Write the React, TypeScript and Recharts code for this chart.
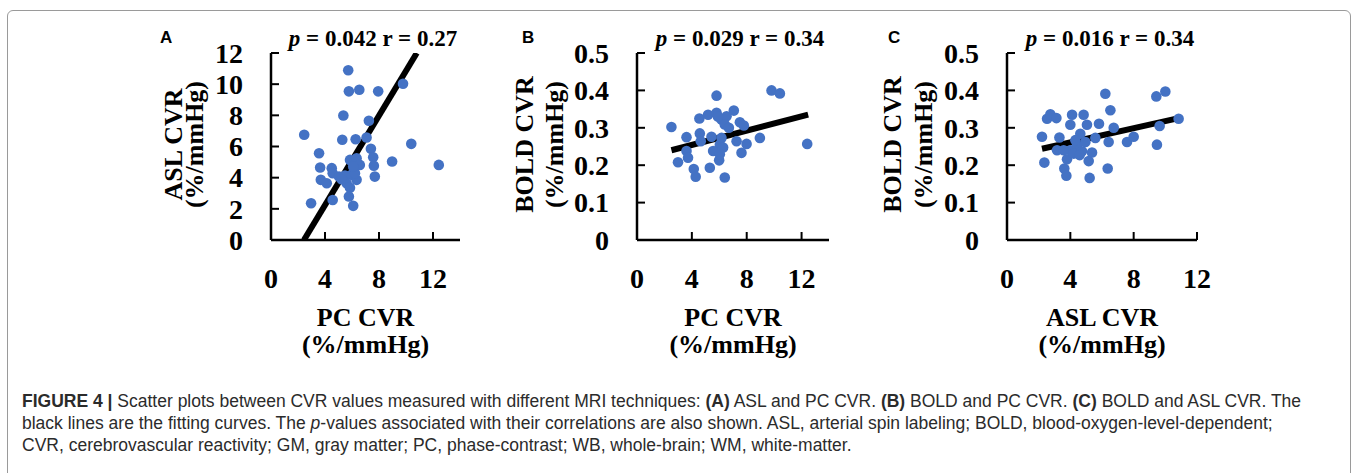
import React from "react";
import { ScatterChart, Scatter, XAxis, YAxis } from "recharts";

const SERIF = '"Liberation Serif", "Times New Roman", serif';
const SANS = '"Liberation Sans", Arial, sans-serif';
const BLUE = "#4472C4";

// A: PC CVR (x) vs ASL CVR (y)
const pcCvrA = [5.72, 5.77, 6.54, 7.94, 9.78, 5.36, 7.25, 2.46, 5.28, 6.27, 7.08, 10.39, 3.56, 7.4, 7.57, 5.85, 6.34, 6.58, 7.62, 8.97, 12.43, 3.64, 4.5, 4.57, 3.69, 4.13, 5.04, 5.48, 5.97, 6.34, 6.22, 5.6, 7.69, 5.85, 4.57, 5.77, 6.09, 2.97, 5.23, 6.09];
const aslCvrA = [10.89, 9.54, 9.64, 9.54, 10.03, 7.99, 7.65, 6.75, 6.43, 6.47, 6.58, 6.17, 5.57, 5.85, 5.31, 5.14, 5.25, 4.82, 4.76, 5.04, 4.82, 4.65, 4.61, 4.29, 3.86, 3.64, 4.07, 4.14, 4.18, 3.86, 4.29, 3.64, 4.07, 3.36, 2.57, 2.79, 2.19, 2.36, 3.9, 4.71];

// B: PC CVR (x) vs BOLD CVR (y)
const pcCvrB = [2.51, 3.61, 4.58, 4.65, 4.55, 5.18, 5.8, 5.8, 6.16, 6.53, 7.06, 6.4, 7.5, 7.79, 5.43, 6.16, 6.04, 6.28, 7.26, 7.99, 7.62, 8.96, 9.81, 10.42, 12.41, 3.61, 3.72, 2.99, 4.14, 4.28, 5.31, 5.99, 6.4, 5.55, 6.04, 5.9, 6.7];
const boldCvrB = [0.302, 0.275, 0.285, 0.264, 0.325, 0.335, 0.386, 0.34, 0.322, 0.331, 0.346, 0.309, 0.315, 0.306, 0.276, 0.273, 0.255, 0.247, 0.264, 0.257, 0.233, 0.273, 0.4, 0.392, 0.257, 0.238, 0.22, 0.208, 0.19, 0.169, 0.193, 0.213, 0.167, 0.238, 0.229, 0.33, 0.3];

// C: ASL CVR (x) vs BOLD CVR (y)
const aslCvrC = [2.21, 2.36, 2.53, 2.74, 3.31, 3.62, 3.75, 3.12, 4.11, 4.0, 4.84, 5.05, 5.81, 6.21, 6.53, 6.74, 6.42, 6.36, 5.22, 5.16, 5.37, 5.58, 4.63, 3.16, 3.79, 4.0, 4.42, 4.21, 4.74, 4.95, 4.59, 7.58, 8.0, 9.43, 10.0, 9.64, 9.47, 10.84, 3.58, 4.32];
const boldCvrC = [0.276, 0.207, 0.324, 0.336, 0.274, 0.191, 0.172, 0.326, 0.335, 0.308, 0.335, 0.308, 0.311, 0.391, 0.347, 0.3, 0.262, 0.191, 0.166, 0.211, 0.234, 0.273, 0.284, 0.24, 0.216, 0.24, 0.253, 0.231, 0.237, 0.262, 0.227, 0.262, 0.276, 0.384, 0.397, 0.305, 0.255, 0.324, 0.24, 0.267];

// fitted lines (end points)
const fitAx = [2.44, 10.8];
const fitAy = [0, 12];
const fitBx = [2.51, 12.48];
const fitBy = [0.24, 0.335];
const fitCx = [2.21, 10.84];
const fitCy = [0.244, 0.326];

const xTicks = [0, 4, 8, 12];
const yTicksAsl = [0, 2, 4, 6, 8, 10, 12];
const yTicksBold = [0, 0.1, 0.2, 0.3, 0.4, 0.5];

const zip = (xs: number[], ys: number[]) => xs.map((x, i) => ({ x, y: ys[i] }));

const XTick = (p: any) => (
  <g>
    <line x1={p.x} y1={p.y} x2={p.x} y2={p.y - 8} stroke="#000" strokeWidth={2} />
    <text x={p.x} y={p.y + 48} textAnchor="middle" fontFamily={SERIF} fontWeight="bold" fontSize={28} fill="#000">
      {p.payload.value}
    </text>
  </g>
);

const YTick = (p: any) => (
  <g>
    <line x1={p.x} y1={p.y} x2={p.x + 8} y2={p.y} stroke="#000" strokeWidth={2} />
    <text x={p.x - 28} y={p.y} dy="0.35em" textAnchor="end" fontFamily={SERIF} fontWeight="bold" fontSize={28} fill="#000">
      {p.payload.value}
    </text>
  </g>
);

const Dot = (p: any) => <circle cx={p.cx} cy={p.cy} r={5.3} fill={BLUE} />;
const NoDot = () => <g />;

type PanelProps = {
  plotLeft: number;
  plotW: number;
  points: { x: number; y: number }[];
  fit: { x: number; y: number }[];
  xMax: number;
  yMax: number;
  yTicks: number[];
  xTitle: string;
  yTitle: string;
  yOff: [number, number];
};

function Panel({ plotLeft, plotW, points, fit, xMax, yMax, yTicks, xTitle, yTitle, yOff }: PanelProps) {
  const yw = 121;
  const pad = 20;
  const titleStyle = { fontFamily: SERIF, fontWeight: "bold" as const, fontSize: 26, fill: "#000" };
  return (
    <div style={{ position: "absolute", left: plotLeft - yw - pad, top: 20 }}>
      <ScatterChart width={pad + yw + plotW + 20} height={348} margin={{ top: 33, right: 20, bottom: 0, left: pad }}>
        <XAxis
          type="number"
          dataKey="x"
          domain={[0, xMax]}
          ticks={xTicks}
          interval={0}
          height={128}
          tickSize={0}
          tickMargin={0}
          tickLine={false}
          axisLine={{ stroke: "#000", strokeWidth: 2.5 }}
          tick={XTick}
          allowDataOverflow
          label={{
            content: (lp: any) => {
              const vb = lp.viewBox;
              const cx = vb.x + vb.width / 2;
              return (
                <g>
                  <text x={cx} y={vb.y + 86} textAnchor="middle" {...titleStyle}>{xTitle}</text>
                  <text x={cx} y={vb.y + 113} textAnchor="middle" {...titleStyle}>(%/mmHg)</text>
                </g>
              );
            },
          }}
        />
        <YAxis
          type="number"
          dataKey="y"
          domain={[0, yMax]}
          ticks={yTicks}
          interval={0}
          width={yw}
          tickSize={0}
          tickMargin={0}
          tickLine={false}
          axisLine={{ stroke: "#000", strokeWidth: 2.5 }}
          tick={YTick}
          allowDataOverflow
          label={{
            content: (lp: any) => {
              const vb = lp.viewBox;
              const cy = vb.y + vb.height / 2 - 2;
              return (
                <g>
                  <text transform={`translate(${vb.x + yOff[0]},${cy}) rotate(-90)`} textAnchor="middle" {...titleStyle}>{yTitle}</text>
                  <text transform={`translate(${vb.x + yOff[1]},${cy}) rotate(-90)`} textAnchor="middle" {...titleStyle}>(%/mmHg)</text>
                </g>
              );
            },
          }}
        />
        <Scatter data={fit} shape={NoDot} line={{ stroke: "#000", strokeWidth: 6 }} isAnimationActive={false} />
        <Scatter data={points} shape={Dot} isAnimationActive={false} />
      </ScatterChart>
    </div>
  );
}

const Stat = ({ x, p, r }: { x: number; p: string; r: string }) => (
  <text x={x} y={46} textAnchor="middle" fontFamily={SERIF} fontWeight="bold" fontSize={23} fill="#000">
    <tspan fontStyle="italic">p</tspan> = {p} r = {r}
  </text>
);

const Letter = ({ x, t }: { x: number; t: string }) => (
  <text x={x} y={43} fontFamily={SANS} fontWeight="bold" fontSize={17} fill="#000">{t}</text>
);

export default function App() {
  return (
    <div style={{ position: "absolute", left: 0, top: 0, width: 1358, height: 473, background: "#fff", overflow: "hidden" }}>
      <div style={{ position: "absolute", left: 7, top: 10, width: 1342, height: 500, border: "1px solid #9a9a9a", borderRadius: 6 }} />
      <Panel plotLeft={271} plotW={189} points={zip(pcCvrA, aslCvrA)} fit={zip(fitAx, fitAy)} xMax={14} yMax={12} yTicks={yTicksAsl} xTitle="PC CVR" yTitle="ASL CVR" yOff={[32, 53]} />
      <Panel plotLeft={637} plotW={192} points={zip(pcCvrB, boldCvrB)} fit={zip(fitBx, fitBy)} xMax={14} yMax={0.5} yTicks={yTicksBold} xTitle="PC CVR" yTitle="BOLD CVR" yOff={[17, 47]} />
      <Panel plotLeft={1007} plotW={190} points={zip(aslCvrC, boldCvrC)} fit={zip(fitCx, fitCy)} xMax={12} yMax={0.5} yTicks={yTicksBold} xTitle="ASL CVR" yTitle="BOLD CVR" yOff={[15, 46]} />
      <svg width={1358} height={60} style={{ position: "absolute", left: 0, top: 0 }}>
        <Letter x={160} t="A" />
        <Stat x={373} p="0.042" r="0.27" />
        <Letter x={522} t="B" />
        <Stat x={740} p="0.029" r="0.34" />
        <Letter x={888} t="C" />
        <Stat x={1110} p="0.016" r="0.34" />
      </svg>
      <div
        style={{
          position: "absolute",
          left: 22,
          top: 390,
          fontFamily: SANS,
          fontSize: 17.5,
          lineHeight: "22px",
          color: "#2b2b2b",
          whiteSpace: "nowrap",
        }}
      >
        <div>
          <b>FIGURE 4 |</b> Scatter plots between CVR values measured with different MRI techniques: <b>(A)</b> ASL and PC CVR. <b>(B)</b> BOLD and PC CVR. <b>(C)</b> BOLD and ASL CVR. The
        </div>
        <div>
          black lines are the fitting curves. The <i>p</i>-values associated with their correlations are also shown. ASL, arterial spin labeling; BOLD, blood-oxygen-level-dependent;
        </div>
        <div>CVR, cerebrovascular reactivity; GM, gray matter; PC, phase-contrast; WB, whole-brain; WM, white-matter.</div>
      </div>
    </div>
  );
}
